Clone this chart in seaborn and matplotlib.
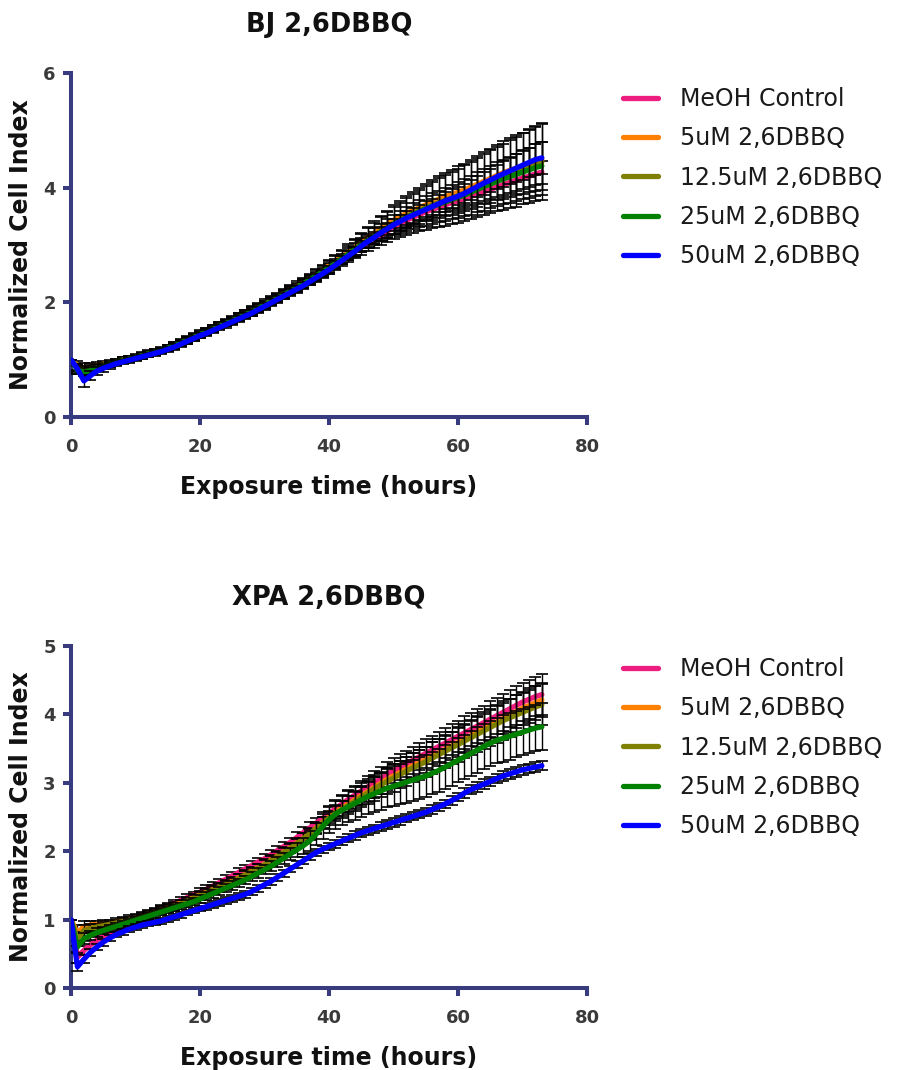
import matplotlib
matplotlib.use("Agg")
import matplotlib.pyplot as plt
import seaborn as sns
import pandas as pd

# ---------------- data ----------------
HOURS = list(range(74))
LABELS = ["MeOH Control", "5uM 2,6DBBQ", "12.5uM 2,6DBBQ", "25uM 2,6DBBQ", "50uM 2,6DBBQ"]
COLORS = ["#EE1C7E", "#FF7F00", "#808000", "#008000", "#0000FF"]

BJ_MEOH = [
    1.00, 0.86, 0.80, 0.83, 0.86, 0.89, 0.92, 0.95, 0.98, 1.01,
    1.04, 1.07, 1.10, 1.13, 1.16, 1.20, 1.24, 1.29, 1.34, 1.39,
    1.44, 1.49, 1.54, 1.59, 1.64, 1.69, 1.74, 1.79, 1.84, 1.90,
    1.96, 2.02, 2.08, 2.14, 2.20, 2.26, 2.32, 2.38, 2.45, 2.52,
    2.59, 2.66, 2.74, 2.81, 2.88, 2.96, 3.03, 3.10, 3.17, 3.24,
    3.31, 3.37, 3.43, 3.48, 3.53, 3.58, 3.62, 3.66, 3.70, 3.74,
    3.77, 3.81, 3.85, 3.89, 3.93, 3.97, 4.01, 4.05, 4.09, 4.13,
    4.17, 4.20, 4.24, 4.27]
BJ_5 = [
    1.00, 0.90, 0.86, 0.87, 0.90, 0.92, 0.94, 0.97, 1.00, 1.02,
    1.05, 1.08, 1.11, 1.14, 1.17, 1.21, 1.25, 1.30, 1.35, 1.40,
    1.45, 1.50, 1.55, 1.60, 1.65, 1.70, 1.75, 1.80, 1.86, 1.92,
    1.98, 2.04, 2.10, 2.16, 2.22, 2.29, 2.35, 2.42, 2.49, 2.56,
    2.64, 2.72, 2.80, 2.88, 2.96, 3.05, 3.13, 3.21, 3.29, 3.36,
    3.43, 3.49, 3.55, 3.60, 3.65, 3.70, 3.75, 3.80, 3.84, 3.88,
    3.92, 3.96, 4.01, 4.06, 4.11, 4.16, 4.21, 4.26, 4.30, 4.34,
    4.38, 4.42, 4.46, 4.49]
BJ_12 = [
    1.00, 0.86, 0.82, 0.84, 0.87, 0.90, 0.93, 0.96, 0.99, 1.01,
    1.04, 1.07, 1.10, 1.13, 1.16, 1.20, 1.24, 1.29, 1.34, 1.39,
    1.44, 1.49, 1.54, 1.59, 1.64, 1.69, 1.74, 1.79, 1.84, 1.90,
    1.96, 2.02, 2.08, 2.14, 2.20, 2.26, 2.33, 2.40, 2.47, 2.54,
    2.61, 2.69, 2.77, 2.85, 2.93, 3.01, 3.09, 3.16, 3.24, 3.31,
    3.38, 3.44, 3.50, 3.55, 3.60, 3.65, 3.70, 3.74, 3.78, 3.82,
    3.86, 3.90, 3.95, 4.00, 4.05, 4.10, 4.15, 4.19, 4.24, 4.28,
    4.33, 4.37, 4.41, 4.45]
BJ_25 = [
    1.00, 0.82, 0.78, 0.81, 0.85, 0.88, 0.92, 0.95, 0.98, 1.01,
    1.04, 1.07, 1.10, 1.13, 1.16, 1.20, 1.24, 1.29, 1.34, 1.39,
    1.44, 1.48, 1.53, 1.58, 1.63, 1.68, 1.73, 1.78, 1.83, 1.89,
    1.95, 2.01, 2.07, 2.13, 2.19, 2.25, 2.32, 2.39, 2.46, 2.53,
    2.60, 2.68, 2.76, 2.84, 2.92, 3.00, 3.07, 3.15, 3.22, 3.29,
    3.36, 3.42, 3.48, 3.53, 3.58, 3.63, 3.67, 3.71, 3.75, 3.79,
    3.83, 3.87, 3.92, 3.97, 4.02, 4.06, 4.11, 4.15, 4.19, 4.23,
    4.27, 4.31, 4.35, 4.38]
BJ_50 = [
    1.00, 0.84, 0.63, 0.72, 0.80, 0.85, 0.89, 0.93, 0.96, 0.99,
    1.02, 1.05, 1.08, 1.11, 1.14, 1.18, 1.22, 1.27, 1.32, 1.37,
    1.42, 1.46, 1.51, 1.56, 1.61, 1.66, 1.71, 1.76, 1.81, 1.87,
    1.93, 1.99, 2.05, 2.11, 2.17, 2.23, 2.29, 2.36, 2.43, 2.50,
    2.57, 2.65, 2.73, 2.81, 2.89, 2.98, 3.06, 3.13, 3.21, 3.28,
    3.35, 3.41, 3.47, 3.52, 3.57, 3.62, 3.67, 3.72, 3.77, 3.81,
    3.85, 3.90, 3.96, 4.02, 4.08, 4.13, 4.19, 4.24, 4.29, 4.34,
    4.39, 4.44, 4.49, 4.52]

BJ_MEOH_SD = [
    0.00, 0.06, 0.06, 0.05, 0.05, 0.04, 0.04, 0.04, 0.04, 0.04,
    0.04, 0.04, 0.04, 0.04, 0.04, 0.05, 0.05, 0.05, 0.05, 0.05,
    0.05, 0.05, 0.05, 0.05, 0.05, 0.05, 0.05, 0.05, 0.06, 0.06,
    0.06, 0.06, 0.06, 0.06, 0.06, 0.06, 0.07, 0.07, 0.07, 0.07,
    0.08, 0.08, 0.08, 0.08, 0.09, 0.09, 0.09, 0.10, 0.10, 0.10,
    0.11, 0.11, 0.11, 0.12, 0.12, 0.12, 0.13, 0.13, 0.13, 0.14,
    0.14, 0.15, 0.15, 0.15, 0.16, 0.16, 0.17, 0.17, 0.18, 0.18,
    0.19, 0.19, 0.20, 0.20]
BJ_5_SD = [
    0.00, 0.08, 0.08, 0.07, 0.06, 0.05, 0.05, 0.05, 0.05, 0.05,
    0.05, 0.05, 0.05, 0.05, 0.05, 0.05, 0.06, 0.06, 0.06, 0.06,
    0.06, 0.06, 0.06, 0.06, 0.06, 0.06, 0.07, 0.07, 0.07, 0.07,
    0.07, 0.07, 0.07, 0.08, 0.08, 0.08, 0.08, 0.08, 0.09, 0.09,
    0.10, 0.11, 0.12, 0.13, 0.14, 0.16, 0.18, 0.20, 0.22, 0.24,
    0.26, 0.28, 0.30, 0.32, 0.34, 0.36, 0.38, 0.40, 0.42, 0.43,
    0.45, 0.46, 0.48, 0.49, 0.51, 0.52, 0.53, 0.55, 0.56, 0.57,
    0.58, 0.60, 0.61, 0.62]
BJ_12_SD = [
    0.00, 0.07, 0.07, 0.06, 0.06, 0.05, 0.05, 0.05, 0.05, 0.05,
    0.05, 0.05, 0.05, 0.05, 0.05, 0.05, 0.06, 0.06, 0.06, 0.06,
    0.06, 0.06, 0.06, 0.06, 0.06, 0.06, 0.07, 0.07, 0.07, 0.07,
    0.07, 0.07, 0.07, 0.08, 0.08, 0.08, 0.08, 0.08, 0.09, 0.10,
    0.11, 0.12, 0.13, 0.14, 0.16, 0.18, 0.20, 0.22, 0.24, 0.26,
    0.28, 0.30, 0.32, 0.34, 0.36, 0.38, 0.40, 0.42, 0.44, 0.46,
    0.47, 0.49, 0.50, 0.52, 0.53, 0.55, 0.56, 0.58, 0.59, 0.61,
    0.62, 0.64, 0.65, 0.67]
BJ_25_SD = [
    0.00, 0.07, 0.07, 0.06, 0.05, 0.05, 0.04, 0.04, 0.04, 0.04,
    0.04, 0.04, 0.04, 0.04, 0.04, 0.04, 0.05, 0.05, 0.05, 0.05,
    0.05, 0.05, 0.05, 0.05, 0.05, 0.05, 0.05, 0.05, 0.06, 0.06,
    0.06, 0.06, 0.06, 0.06, 0.06, 0.06, 0.07, 0.07, 0.07, 0.07,
    0.08, 0.08, 0.09, 0.10, 0.11, 0.12, 0.13, 0.14, 0.15, 0.16,
    0.17, 0.18, 0.19, 0.20, 0.21, 0.22, 0.23, 0.24, 0.25, 0.26,
    0.27, 0.28, 0.29, 0.30, 0.31, 0.32, 0.33, 0.34, 0.35, 0.36,
    0.38, 0.39, 0.41, 0.42]
BJ_50_SD = [
    0.00, 0.09, 0.10, 0.08, 0.07, 0.06, 0.05, 0.04, 0.04, 0.04,
    0.04, 0.04, 0.04, 0.04, 0.04, 0.04, 0.05, 0.05, 0.05, 0.05,
    0.05, 0.05, 0.05, 0.05, 0.05, 0.05, 0.05, 0.05, 0.05, 0.05,
    0.06, 0.06, 0.06, 0.06, 0.06, 0.06, 0.06, 0.06, 0.07, 0.07,
    0.07, 0.07, 0.07, 0.08, 0.08, 0.09, 0.09, 0.10, 0.10, 0.11,
    0.11, 0.12, 0.12, 0.13, 0.13, 0.14, 0.14, 0.15, 0.15, 0.16,
    0.16, 0.17, 0.18, 0.19, 0.20, 0.20, 0.21, 0.22, 0.23, 0.24,
    0.25, 0.26, 0.27, 0.28]

XPA_MEOH = [
    1.00, 0.45, 0.55, 0.63, 0.70, 0.75, 0.80, 0.84, 0.88, 0.92,
    0.96, 1.01, 1.06, 1.11, 1.16, 1.20, 1.24, 1.28, 1.32, 1.36,
    1.40, 1.44, 1.49, 1.54, 1.59, 1.64, 1.69, 1.74, 1.79, 1.84,
    1.89, 1.95, 2.01, 2.07, 2.13, 2.20, 2.27, 2.34, 2.41, 2.48,
    2.55, 2.62, 2.69, 2.76, 2.82, 2.88, 2.94, 3.00, 3.06, 3.12,
    3.18, 3.23, 3.28, 3.33, 3.38, 3.43, 3.48, 3.53, 3.58, 3.63,
    3.68, 3.73, 3.78, 3.83, 3.88, 3.93, 3.98, 4.03, 4.08, 4.13,
    4.18, 4.22, 4.26, 4.29]
XPA_5 = [
    1.00, 0.80, 0.90, 0.92, 0.93, 0.94, 0.95, 0.97, 0.99, 1.01,
    1.03, 1.06, 1.09, 1.12, 1.15, 1.18, 1.21, 1.24, 1.28, 1.32,
    1.36, 1.40, 1.44, 1.48, 1.52, 1.56, 1.61, 1.66, 1.71, 1.76,
    1.81, 1.87, 1.93, 1.99, 2.05, 2.12, 2.19, 2.26, 2.34, 2.42,
    2.50, 2.57, 2.63, 2.69, 2.75, 2.81, 2.87, 2.93, 2.99, 3.05,
    3.10, 3.15, 3.20, 3.25, 3.29, 3.34, 3.39, 3.44, 3.49, 3.54,
    3.59, 3.64, 3.69, 3.74, 3.79, 3.84, 3.89, 3.94, 3.99, 4.04,
    4.09, 4.13, 4.17, 4.21]
XPA_12 = [
    1.00, 0.72, 0.84, 0.87, 0.89, 0.91, 0.93, 0.95, 0.97, 0.99,
    1.01, 1.04, 1.07, 1.10, 1.13, 1.16, 1.19, 1.23, 1.27, 1.31,
    1.35, 1.39, 1.43, 1.47, 1.51, 1.55, 1.60, 1.65, 1.70, 1.75,
    1.80, 1.86, 1.92, 1.98, 2.04, 2.11, 2.18, 2.25, 2.33, 2.41,
    2.48, 2.55, 2.61, 2.67, 2.73, 2.79, 2.85, 2.91, 2.97, 3.02,
    3.07, 3.12, 3.17, 3.22, 3.26, 3.31, 3.36, 3.41, 3.46, 3.51,
    3.56, 3.61, 3.66, 3.71, 3.76, 3.81, 3.86, 3.91, 3.95, 3.99,
    4.03, 4.07, 4.11, 4.14]
XPA_25 = [
    1.00, 0.60, 0.72, 0.77, 0.81, 0.84, 0.87, 0.90, 0.93, 0.96,
    0.99, 1.02, 1.05, 1.08, 1.11, 1.14, 1.17, 1.20, 1.23, 1.26,
    1.30, 1.34, 1.38, 1.42, 1.46, 1.50, 1.54, 1.58, 1.63, 1.68,
    1.73, 1.78, 1.84, 1.90, 1.96, 2.02, 2.08, 2.15, 2.25, 2.36,
    2.46, 2.54, 2.60, 2.65, 2.70, 2.75, 2.80, 2.84, 2.88, 2.92,
    2.95, 2.98, 3.01, 3.04, 3.07, 3.10, 3.14, 3.18, 3.23, 3.28,
    3.33, 3.38, 3.43, 3.48, 3.53, 3.58, 3.62, 3.65, 3.68, 3.71,
    3.74, 3.77, 3.80, 3.82]
XPA_50 = [
    1.00, 0.31, 0.42, 0.52, 0.60, 0.67, 0.73, 0.78, 0.82, 0.86,
    0.89, 0.92, 0.94, 0.96, 0.98, 1.01, 1.04, 1.07, 1.10, 1.13,
    1.16, 1.19, 1.22, 1.25, 1.28, 1.31, 1.34, 1.37, 1.41, 1.46,
    1.51, 1.56, 1.62, 1.68, 1.74, 1.80, 1.86, 1.92, 1.98, 2.03,
    2.07, 2.11, 2.15, 2.19, 2.23, 2.27, 2.30, 2.33, 2.36, 2.39,
    2.42, 2.45, 2.48, 2.51, 2.54, 2.57, 2.61, 2.65, 2.69, 2.74,
    2.79, 2.85, 2.90, 2.94, 2.98, 3.02, 3.06, 3.10, 3.13, 3.16,
    3.19, 3.21, 3.23, 3.25]

XPA_MEOH_SD = [
    0.00, 0.08, 0.07, 0.06, 0.06, 0.05, 0.05, 0.05, 0.05, 0.05,
    0.05, 0.05, 0.05, 0.05, 0.05, 0.05, 0.05, 0.05, 0.05, 0.05,
    0.06, 0.06, 0.06, 0.06, 0.06, 0.06, 0.06, 0.06, 0.06, 0.06,
    0.07, 0.07, 0.07, 0.07, 0.07, 0.08, 0.08, 0.08, 0.08, 0.09,
    0.10, 0.11, 0.12, 0.13, 0.14, 0.15, 0.16, 0.17, 0.17, 0.18,
    0.18, 0.19, 0.19, 0.20, 0.20, 0.21, 0.21, 0.22, 0.22, 0.23,
    0.23, 0.24, 0.24, 0.25, 0.25, 0.26, 0.26, 0.27, 0.27, 0.28,
    0.28, 0.29, 0.29, 0.30]
XPA_5_SD = [
    0.00, 0.12, 0.08, 0.06, 0.05, 0.05, 0.05, 0.05, 0.05, 0.05,
    0.05, 0.05, 0.05, 0.05, 0.05, 0.05, 0.05, 0.05, 0.05, 0.05,
    0.06, 0.06, 0.06, 0.06, 0.06, 0.06, 0.06, 0.06, 0.06, 0.06,
    0.07, 0.07, 0.07, 0.07, 0.07, 0.07, 0.08, 0.08, 0.08, 0.08,
    0.09, 0.10, 0.11, 0.12, 0.13, 0.14, 0.15, 0.15, 0.16, 0.16,
    0.17, 0.17, 0.18, 0.18, 0.19, 0.19, 0.20, 0.20, 0.20, 0.21,
    0.21, 0.21, 0.22, 0.22, 0.22, 0.23, 0.23, 0.23, 0.24, 0.24,
    0.24, 0.25, 0.25, 0.25]
XPA_12_SD = [
    0.00, 0.10, 0.08, 0.06, 0.05, 0.05, 0.05, 0.05, 0.05, 0.05,
    0.05, 0.05, 0.05, 0.05, 0.05, 0.05, 0.05, 0.05, 0.05, 0.05,
    0.06, 0.06, 0.06, 0.06, 0.06, 0.06, 0.06, 0.06, 0.06, 0.06,
    0.07, 0.07, 0.07, 0.07, 0.07, 0.07, 0.08, 0.08, 0.08, 0.09,
    0.10, 0.11, 0.12, 0.13, 0.14, 0.15, 0.16, 0.17, 0.18, 0.19,
    0.20, 0.20, 0.21, 0.21, 0.22, 0.22, 0.23, 0.23, 0.24, 0.24,
    0.25, 0.25, 0.26, 0.26, 0.27, 0.27, 0.28, 0.28, 0.28, 0.29,
    0.29, 0.29, 0.30, 0.30]
XPA_25_SD = [
    0.00, 0.09, 0.08, 0.07, 0.06, 0.05, 0.05, 0.05, 0.05, 0.05,
    0.05, 0.05, 0.05, 0.05, 0.05, 0.05, 0.05, 0.05, 0.05, 0.05,
    0.06, 0.06, 0.06, 0.06, 0.06, 0.06, 0.06, 0.06, 0.07, 0.07,
    0.07, 0.07, 0.07, 0.08, 0.09, 0.10, 0.12, 0.14, 0.16, 0.18,
    0.20, 0.21, 0.22, 0.23, 0.24, 0.25, 0.26, 0.27, 0.28, 0.28,
    0.29, 0.29, 0.30, 0.30, 0.30, 0.31, 0.31, 0.31, 0.32, 0.32,
    0.32, 0.32, 0.33, 0.33, 0.33, 0.33, 0.33, 0.34, 0.34, 0.34,
    0.34, 0.34, 0.34, 0.34]
XPA_50_SD = [
    0.00, 0.06, 0.06, 0.05, 0.05, 0.05, 0.04, 0.04, 0.04, 0.04,
    0.04, 0.04, 0.04, 0.04, 0.04, 0.04, 0.04, 0.04, 0.04, 0.04,
    0.04, 0.05, 0.05, 0.05, 0.05, 0.05, 0.05, 0.05, 0.05, 0.05,
    0.05, 0.05, 0.05, 0.05, 0.05, 0.05, 0.05, 0.05, 0.05, 0.05,
    0.05, 0.06, 0.06, 0.06, 0.06, 0.06, 0.06, 0.06, 0.06, 0.06,
    0.06, 0.06, 0.06, 0.06, 0.06, 0.06, 0.06, 0.06, 0.06, 0.06,
    0.06, 0.07, 0.07, 0.07, 0.07, 0.07, 0.07, 0.07, 0.07, 0.07,
    0.07, 0.07, 0.07, 0.07]

BJ_MEANS = [BJ_MEOH, BJ_5, BJ_12, BJ_25, BJ_50]
BJ_SDS = [BJ_MEOH_SD, BJ_5_SD, BJ_12_SD, BJ_25_SD, BJ_50_SD]
XPA_MEANS = [XPA_MEOH, XPA_5, XPA_12, XPA_25, XPA_50]
XPA_SDS = [XPA_MEOH_SD, XPA_5_SD, XPA_12_SD, XPA_25_SD, XPA_50_SD]

X_TICKS = [0, 20, 40, 60, 80]
BJ_Y_TICKS = [0, 2, 4, 6]
XPA_Y_TICKS = [0, 1, 2, 3, 4, 5]

# ---------------- style ----------------
sns.set_theme(style="ticks")
plt.rcParams['font.family'] = ['DejaVu Sans']

AX_COLOR = "#383c7e"
TICK_TXT = "#3a3a3a"
W, H = 898, 1070

fig = plt.figure(figsize=(W / 100, H / 100), dpi=100)
ax1 = fig.add_axes([71 / W, 1 - 417 / H, 516 / W, 344 / H])
ax2 = fig.add_axes([71 / W, 1 - 988 / H, 516 / W, 342 / H])


def panel(ax, means, sds, yticks, title, legend_top):
    for i, (lab, col) in enumerate(zip(LABELS, COLORS)):
        df = pd.DataFrame({"hours": HOURS, "value": means[i]})
        ax.errorbar(HOURS, means[i], yerr=sds[i], fmt="none", ecolor="black",
                    elinewidth=1.0, capsize=4.6, capthick=1.2, zorder=3 + 2 * i)
        sns.lineplot(data=df, x="hours", y="value", ax=ax, color=col, lw=3.8,
                     label=lab, errorbar=None, zorder=4 + 2 * i)
    ax.set_xlim(0, 80)
    ax.set_ylim(yticks[0], yticks[-1])
    ax.set_xticks(X_TICKS)
    ax.set_yticks(yticks)
    sns.despine(ax=ax)
    for s in ("left", "bottom"):
        ax.spines[s].set_linewidth(2.9)
        ax.spines[s].set_color(AX_COLOR)
    ax.tick_params(direction="out", length=6, width=2.9, color=AX_COLOR,
                   labelsize=13, labelcolor=TICK_TXT)
    ax.tick_params(axis="x", pad=9)
    ax.tick_params(axis="y", pad=5)
    for t in ax.get_xticklabels() + ax.get_yticklabels():
        t.set_fontweight("bold")
    ax.set_xlabel("Exposure time (hours)", fontsize=17, fontweight="bold", color="#111111")
    ax.set_ylabel("Normalized Cell Index", fontsize=17, fontweight="bold", color="#111111")
    h_ax = ax.get_position().height * H
    ax.xaxis.set_label_coords(0.5, -58 / h_ax)
    ax.yaxis.set_label_coords(-38 / 516, 0.5)
    ax.text(0.5, 1 + 48 / h_ax, title, transform=ax.transAxes, ha="center",
            va="center", fontsize=18.5, fontweight="bold", color="#111111")
    leg = ax.legend(loc="upper left", bbox_to_anchor=(623 / W, 1 - legend_top / H),
                    bbox_transform=fig.transFigure, frameon=False, fontsize=17,
                    handlelength=1.5, handletextpad=0.9, labelspacing=0.65,
                    borderpad=0, borderaxespad=0)
    for t in leg.get_texts():
        t.set_color("#1a1a1a")


panel(ax1, BJ_MEANS, BJ_SDS, BJ_Y_TICKS, "BJ 2,6DBBQ", 87)
panel(ax2, XPA_MEANS, XPA_SDS, XPA_Y_TICKS, "XPA 2,6DBBQ", 657)

fig.savefig("out.png", dpi=100)
